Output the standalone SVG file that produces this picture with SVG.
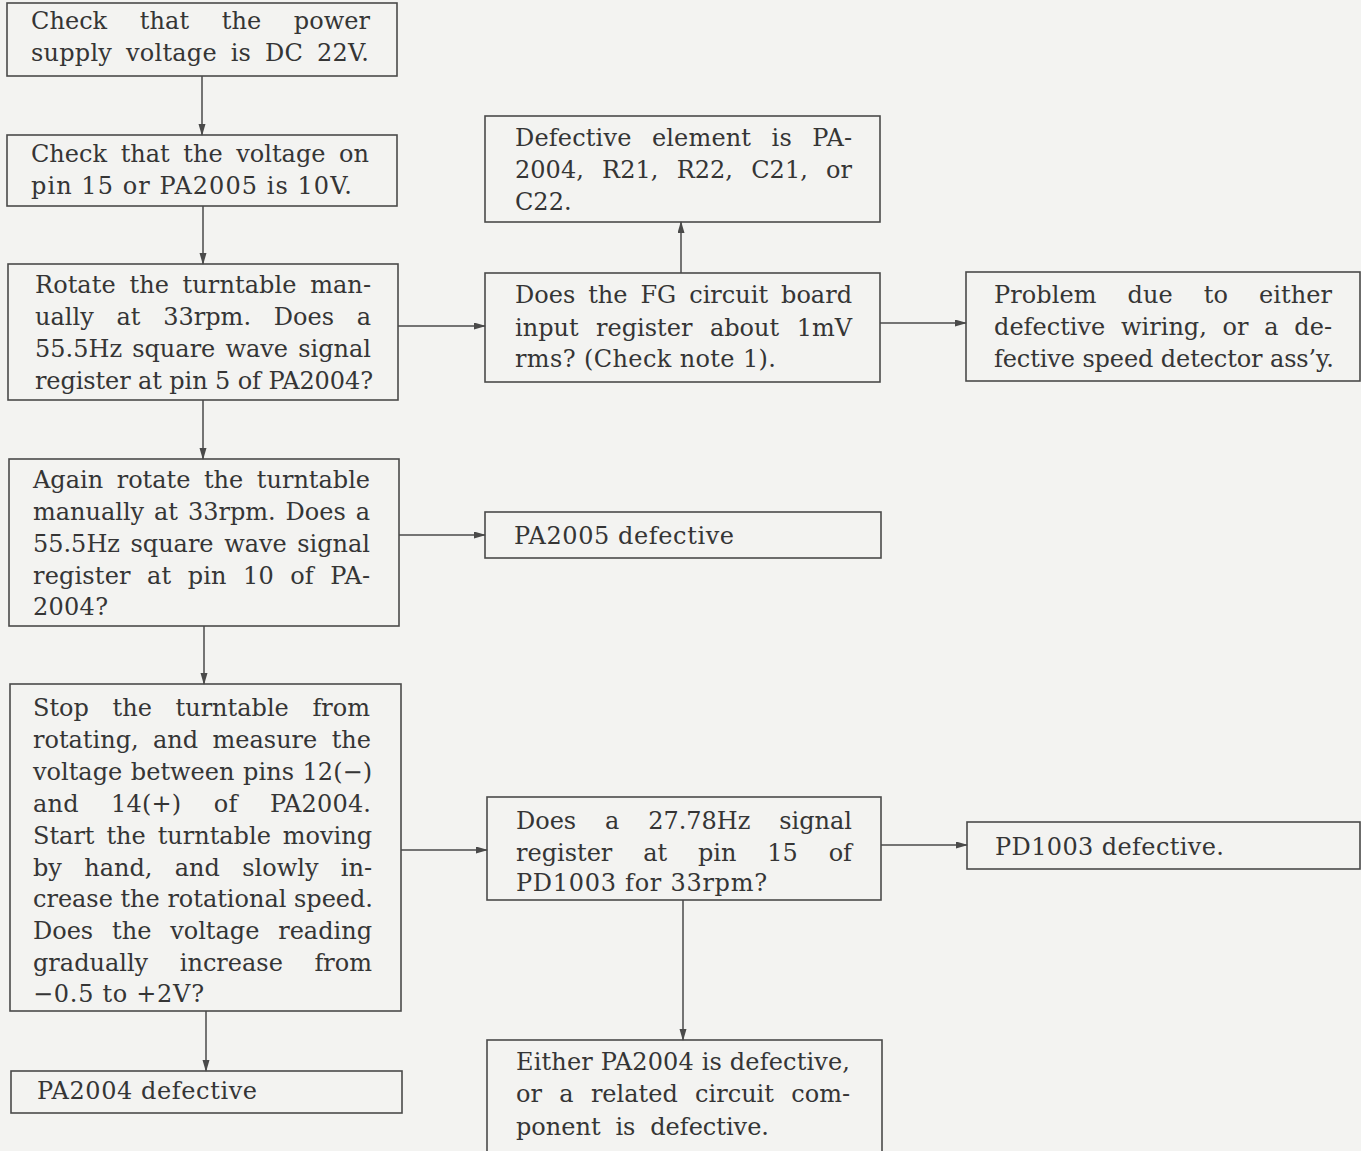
<svg xmlns="http://www.w3.org/2000/svg" width="1361" height="1151" viewBox="0 0 1361 1151">
<defs>
<style>
.box{fill:none;stroke:#4a4a4a;stroke-width:1.6}
.t{font-family:"DejaVu Serif","Liberation Serif",serif;font-size:24px;fill:#353535}
.c{fill:none;stroke:#4a4a4a;stroke-width:1.5}
</style>
<marker id="ah" markerUnits="userSpaceOnUse" markerWidth="12" markerHeight="8" refX="11" refY="3.5" orient="auto">
<path d="M0,0 L12,3.5 L0,7 z" fill="#4a4a4a"/>
</marker>
</defs>
<rect width="1361" height="1151" fill="#f3f3f1"/>

<g id="connectors">
<line class="c" x1="202" y1="76" x2="202" y2="135" marker-end="url(#ah)"/>
<line class="c" x1="203" y1="206" x2="203" y2="264" marker-end="url(#ah)"/>
<line class="c" x1="203" y1="400" x2="203" y2="459" marker-end="url(#ah)"/>
<line class="c" x1="204" y1="626" x2="204" y2="684" marker-end="url(#ah)"/>
<line class="c" x1="206" y1="1011" x2="206" y2="1071" marker-end="url(#ah)"/>
<line class="c" x1="398" y1="326" x2="485" y2="326" marker-end="url(#ah)"/>
<line class="c" x1="681" y1="273" x2="681" y2="222" marker-end="url(#ah)"/>
<line class="c" x1="880" y1="323" x2="966" y2="323" marker-end="url(#ah)"/>
<line class="c" x1="399" y1="535" x2="485" y2="535" marker-end="url(#ah)"/>
<line class="c" x1="401" y1="850" x2="487" y2="850" marker-end="url(#ah)"/>
<line class="c" x1="881" y1="845" x2="967" y2="845" marker-end="url(#ah)"/>
<line class="c" x1="683" y1="900" x2="683" y2="1040" marker-end="url(#ah)"/>
</g>

<g id="nodeA">
<rect class="box" x="7" y="3" width="390" height="73"/>
<text class="t" x="31" y="29" word-spacing="25" textLength="339" lengthAdjust="spacing">Check that the power</text>
<text class="t" x="31" y="61" word-spacing="6" textLength="338" lengthAdjust="spacing">supply voltage is DC 22V.</text>
</g>

<g id="nodeB">
<rect class="box" x="7" y="135" width="390" height="71"/>
<text class="t" x="31" y="162" word-spacing="6" textLength="338" lengthAdjust="spacing">Check that the voltage on</text>
<text class="t" x="31" y="194" textLength="321" lengthAdjust="spacing">pin 15 or PA2005 is 10V.</text>
</g>

<g id="nodeC">
<rect class="box" x="8" y="264" width="390" height="136"/>
<text class="t" x="35" y="293" word-spacing="6" textLength="336" lengthAdjust="spacing">Rotate the turntable man-</text>
<text class="t" x="35" y="325" word-spacing="15" textLength="336" lengthAdjust="spacing">ually at 33rpm. Does a</text>
<text class="t" x="35" y="357" word-spacing="2.5" textLength="336" lengthAdjust="spacing">55.5Hz square wave signal</text>
<text class="t" x="35" y="389" textLength="338" lengthAdjust="spacing">register at pin 5 of PA2004?</text>
</g>

<g id="nodeD">
<rect class="box" x="9" y="459" width="390" height="167"/>
<text class="t" x="33" y="488" word-spacing="6" textLength="337" lengthAdjust="spacing">Again rotate the turntable</text>
<text class="t" x="33" y="520" word-spacing="2.3" textLength="337" lengthAdjust="spacing">manually at 33rpm. Does a</text>
<text class="t" x="33" y="552" word-spacing="3" textLength="337" lengthAdjust="spacing">55.5Hz square wave signal</text>
<text class="t" x="33" y="584" word-spacing="8.6" textLength="337" lengthAdjust="spacing">register at pin 10 of PA-</text>
<text class="t" x="33" y="615" textLength="75" lengthAdjust="spacing">2004?</text>
</g>

<g id="nodeE">
<rect class="box" x="10" y="684" width="391" height="327"/>
<text class="t" x="33" y="716" word-spacing="16" textLength="337" lengthAdjust="spacing">Stop the turntable from</text>
<text class="t" x="33" y="748" word-spacing="6.8" textLength="338" lengthAdjust="spacing">rotating, and measure the</text>
<text class="t" x="33" y="780" word-spacing="1" textLength="339" lengthAdjust="spacing">voltage between pins 12(−)</text>
<text class="t" x="33" y="812" word-spacing="24.6" textLength="338" lengthAdjust="spacing">and 14(+) of PA2004.</text>
<text class="t" x="33" y="844" word-spacing="4.3" textLength="339" lengthAdjust="spacing">Start the turntable moving</text>
<text class="t" x="33" y="876" word-spacing="14.7" textLength="339" lengthAdjust="spacing">by hand, and slowly in-</text>
<text class="t" x="33" y="907" textLength="340" lengthAdjust="spacing">crease the rotational speed.</text>
<text class="t" x="33" y="939" word-spacing="11.2" textLength="339" lengthAdjust="spacing">Does the voltage reading</text>
<text class="t" x="33" y="971" word-spacing="24" textLength="339" lengthAdjust="spacing">gradually increase from</text>
<text class="t" x="33" y="1002" textLength="171" lengthAdjust="spacing">−0.5 to +2V?</text>
</g>

<g id="nodeF">
<rect class="box" x="11" y="1071" width="391" height="42"/>
<text class="t" x="37" y="1099" textLength="220" lengthAdjust="spacing">PA2004 defective</text>
</g>

<g id="nodeG">
<rect class="box" x="485" y="116" width="395" height="106"/>
<text class="t" x="515" y="146" word-spacing="12.6" textLength="337" lengthAdjust="spacing">Defective element is PA-</text>
<text class="t" x="515" y="178" word-spacing="10.5" textLength="337" lengthAdjust="spacing">2004, R21, R22, C21, or</text>
<text class="t" x="515" y="210">C22.</text>
</g>

<g id="nodeH">
<rect class="box" x="485" y="273" width="395" height="109"/>
<text class="t" x="515" y="303" word-spacing="5.3" textLength="337" lengthAdjust="spacing">Does the FG circuit board</text>
<text class="t" x="515" y="336" word-spacing="9.9" textLength="337" lengthAdjust="spacing">input register about 1mV</text>
<text class="t" x="515" y="367" textLength="261" lengthAdjust="spacing">rms? (Check note 1).</text>
</g>

<g id="nodeI">
<rect class="box" x="966" y="272" width="394" height="109"/>
<text class="t" x="994" y="303" word-spacing="23.3" textLength="338" lengthAdjust="spacing">Problem due to either</text>
<text class="t" x="994" y="335" word-spacing="8.1" textLength="338" lengthAdjust="spacing">defective wiring, or a de-</text>
<text class="t" x="994" y="367" textLength="340" lengthAdjust="spacing">fective speed detector ass’y.</text>
</g>

<g id="nodeJ">
<rect class="box" x="485" y="512" width="396" height="46"/>
<text class="t" x="514" y="544" textLength="220" lengthAdjust="spacing">PA2005 defective</text>
</g>

<g id="nodeK">
<rect class="box" x="487" y="797" width="394" height="103"/>
<text class="t" x="516" y="829" word-spacing="21.2" textLength="336" lengthAdjust="spacing">Does a 27.78Hz signal</text>
<text class="t" x="516" y="861" word-spacing="23.2" textLength="336" lengthAdjust="spacing">register at pin 15 of</text>
<text class="t" x="516" y="891" textLength="251" lengthAdjust="spacing">PD1003 for 33rpm?</text>
</g>

<g id="nodeL">
<rect class="box" x="487" y="1040" width="395" height="114"/>
<text class="t" x="516" y="1070" textLength="334" lengthAdjust="spacing">Either PA2004 is defective,</text>
<text class="t" x="516" y="1102" word-spacing="9.7" textLength="334" lengthAdjust="spacing">or a related circuit com-</text>
<text class="t" x="516" y="1135" word-spacing="7.2" textLength="253" lengthAdjust="spacing">ponent is defective.</text>
</g>

<g id="nodeM">
<rect class="box" x="967" y="822" width="393" height="47"/>
<text class="t" x="995" y="855" textLength="229" lengthAdjust="spacing">PD1003 defective.</text>
</g>
</svg>
